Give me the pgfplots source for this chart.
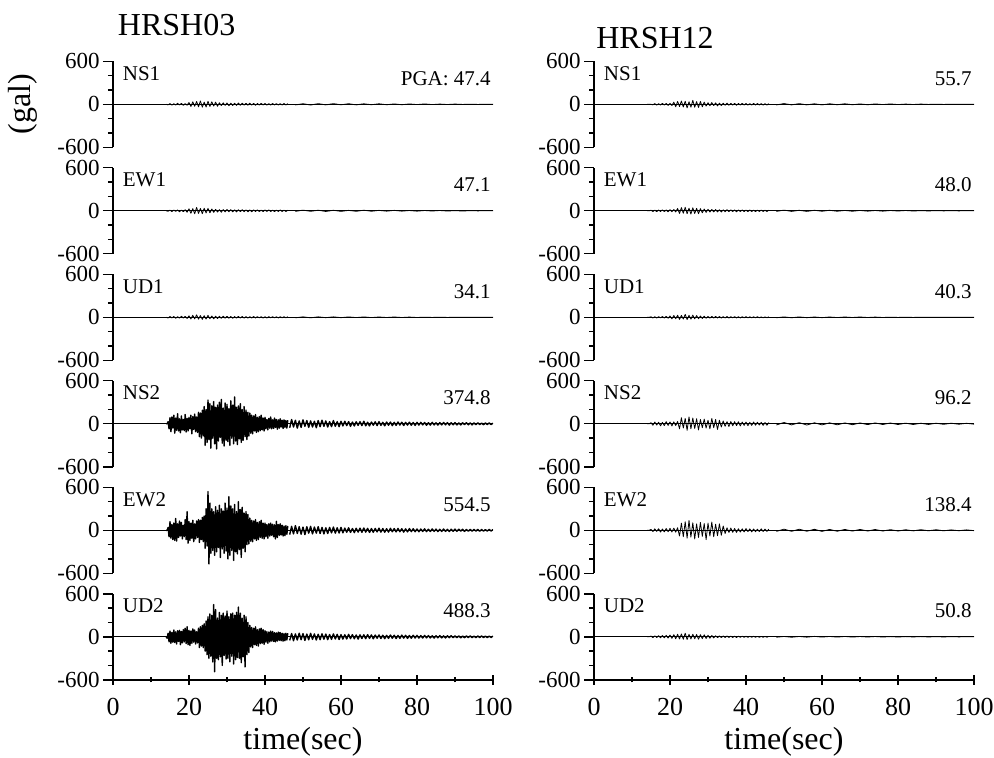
\documentclass[border=0pt]{standalone}
\usepackage{fontspec}
\setmainfont{Liberation Serif}
\usepackage{pgfplots}
\usepackage{pgfplotstable}
\pgfplotsset{compat=1.18}

% left station HRSH03, lower sensors (NS2, EW2, UD2), 14-46 s
\pgfplotstableread{
t ns ew ud
14 0 0 0
14.25 0 0 -20
14.5 30 40 50
14.75 -70 -90 -70
15 85 120 80
15.25 -110 -110 -90
15.5 95 80 60
15.75 -60 -130 -75
16 120 100 95
16.25 -130 -140 -80
16.5 80 165 70
16.75 -90 -150 -100
17 140 90 85
17.25 -100 -100 -65
17.5 70 130 90
17.75 -125 -80 -110
18 110 110 75
18.25 -85 -120 -85
18.5 60 70 100
18.75 -95 -90 -70
19 130 150 120
19.25 -115 -130 -95
19.5 75 260 140
19.75 -100 -180 -110
20 90 120 90
20.25 -70 -140 -120
20.5 120 100 80
20.75 -140 -110 -90
21 100 140 110
21.25 -80 -160 -75
21.5 135 90 95
21.75 -110 -120 -100
22 95 130 70
22.25 -120 -100 -85
22.5 160 150 120
22.75 -180 -170 -150
23 150 140 140
23.25 -200 -130 -130
23.5 190 180 160
23.75 -170 -160 -150
24 240 200 180
24.25 -300 -250 -200
24.5 200 300 220
24.75 -260 -220 -250
25 330 540 280
25.25 -220 -470 -300
25.5 280 380 320
25.75 -340 -320 -270
26 250 300 300
26.25 -200 -280 -350
26.5 310 260 450
26.75 -280 -350 -488
27 230 330 380
27.25 -350 -300 -300
27.5 260 280 260
27.75 -240 -240 -320
28 300 350 340
28.25 -190 -380 -280
28.5 340 300 300
28.75 -270 -260 -400
29 220 270 330
29.25 -310 -320 -260
29.5 290 380 290
29.75 -230 -290 -310
30 270 310 360
30.25 -250 -400 -300
30.5 210 470 280
30.75 -300 -350 -350
31 320 340 320
31.25 -200 -280 -270
31.5 260 300 330
31.75 -280 -420 -380
32 375 360 300
32.25 -240 -300 -320
32.5 230 260 340
32.75 -290 -330 -290
33 250 400 415
33.25 -210 -270 -300
33.5 280 290 330
33.75 -260 -380 -360
34 200 320 260
34.25 -230 -250 -280
34.5 240 240 300
34.75 -180 -300 -420
35 190 260 280
35.25 -220 -200 -250
35.5 160 220 200
35.75 -170 -190 -220
36 150 170 160
36.25 -130 -150 -140
36.5 120 140 130
36.75 -140 -160 -150
37 110 130 120
37.25 -100 -120 -110
37.5 130 150 140
37.75 -120 -140 -120
38 90 110 100
38.25 -110 -130 -130
38.5 100 120 110
38.75 -95 -100 -95
39 120 140 120
39.25 -85 -110 -90
39.5 80 100 100
39.75 -100 -120 -105
40 90 100 85
40.25 -70 -90 -75
40.5 60 80 70
40.75 -85 -110 -90
41 75 90 65
41.25 -60 -80 -70
41.5 95 100 80
41.75 -70 -70 -60
42 55 85 75
42.25 -65 -90 -65
42.5 80 75 60
42.75 -50 -120 -70
43 60 125 55
43.25 -75 -100 -60
43.5 55 80 65
43.75 -60 -70 -50
44 70 90 60
44.25 -45 -65 -55
44.5 50 70 50
44.75 -65 -80 -60
45 55 60 45
45.25 -50 -75 -55
45.5 45 65 50
45.75 -60 -55 -45
46 50 60 50
}\tabA

% left station, lower sensors, coda 46.5-100 s
\pgfplotstableread{
t ns ew ud
46.5 -55 -60 -50
47 60 55 45
47.5 -45 -50 -55
48 50 65 40
48.5 -60 -45 -45
49 40 50 50
49.5 -50 -55 -40
50 55 45 45
50.5 -35 -60 -50
51 45 50 38
51.5 -50 -40 -42
52 40 55 48
52.5 -45 -50 -36
53 35 45 40
53.5 -55 -40 -45
54 45 50 35
54.5 -40 -45 -40
55 50 40 42
55.5 -35 -50 -34
56 40 35 38
56.5 -45 -45 -40
57 30 40 32
57.5 -40 -35 -36
58 45 45 40
58.5 -35 -40 -30
59 30 35 34
59.5 -40 -38 -38
60 35 40 30
60.5 -30 -35 -32
61 35 30 28
61.5 -25 -28 -30
62 30 35 34
62.5 -35 -30 -26
63 25 25 30
63.5 -30 -32 -28
64 28 28 25
64.5 -22 -25 -32
65 30 30 27
65.5 -25 -28 -24
66 35 32 28
66.5 -28 -25 -26
67 22 27 30
67.5 -30 -30 -22
68 25 24 26
68.5 -20 -28 -28
69 28 26 24
69.5 -25 -22 -20
70 30 30 26
70.5 -22 -25 -24
71 20 24 22
71.5 -28 -27 -26
72 25 22 20
72.5 -20 -25 -22
73 24 28 25
73.5 -26 -20 -20
74 20 24 22
74.5 -22 -22 -24
75 25 26 19
75.5 -18 -20 -21
76 22 22 23
76.5 -24 -25 -18
77 20 20 20
77.5 -18 -22 -22
78 22 24 18
78.5 -20 -18 -20
79 18 22 21
79.5 -22 -20 -17
80 20 18 19
80.5 -18 -20 -18
81 20 18 16
81.5 -15 -16 -17
82 18 20 19
82.5 -20 -18 -15
83 15 15 17
83.5 -18 -17 -16
84 20 19 14
84.5 -16 -15 -18
85 14 16 15
85.5 -18 -18 -14
86 16 14 16
86.5 -15 -16 -15
87 18 18 13
87.5 -14 -15 -16
88 16 14 14
88.5 -18 -17 -13
89 15 15 15
89.5 -14 -13 -12
90 16 16 14
90.5 -15 -14 -13
91 12 15 12
91.5 -16 -12 -14
92 14 14 11
92.5 -12 -15 -13
93 15 12 12
93.5 -14 -13 -11
94 12 14 13
94.5 -15 -12 -12
95 13 13 10
95.5 -12 -11 -12
96 14 12 11
96.5 -12 -13 -10
97 10 11 12
97.5 -13 -12 -11
98 12 10 10
98.5 -10 -11 -11
99 12 12 10
99.5 -11 -10 -9
100 10 11 10
}\tabB

% the other nine records, 14-46 s
\pgfplotstableread{
t lns1 lew1 lud1 rns1 rew1 rud1 rns2 rew2 rud2
14 0 0 0 0 0 0 0 0 0
14.5 -8 -6 -10 0 0 0 0 0 0
15 10 9 12 0 8 7 15 12 10
15.5 -12 -11 -9 -8 -10 -9 -20 -18 -12
16 8 10 11 10 9 8 25 20 14
16.5 -10 -8 -14 -12 -12 -10 -18 -15 -10
17 14 12 10 9 11 9 22 22 16
17.5 -9 -14 -12 -11 -10 -8 -28 -25 -14
18 12 10 15 13 13 11 20 18 18
18.5 -15 -12 -11 -10 -11 -10 -25 -22 -15
19 10 15 13 12 12 14 30 25 20
19.5 -13 -20 -16 -15 -14 -12 -22 -20 -18
20 25 28 20 14 15 18 26 28 25
20.5 -30 -35 -24 -18 -13 -22 -30 -24 -22
21 35 30 28 30 18 25 28 30 30
21.5 -28 -42 -22 -35 -16 -20 -24 -26 -28
22 40 47 34 40 32 28 32 35 35
22.5 -35 -38 -26 -32 -38 -30 -70 -80 -30
23 47 33 24 45 44 26 85 100 40
23.5 -40 -40 -30 -38 -35 -24 -60 -90 -35
24 30 36 22 42 48 40 75 120 50
24.5 -38 -30 -25 -50 -40 -32 -90 -110 -38
25 42 34 27 36 36 28 96 138 34
25.5 -30 -28 -20 -40 -45 -26 -70 -95 -30
26 35 25 18 55 42 30 80 105 36
26.5 -25 -22 -22 -42 -38 -22 -65 -120 -28
27 30 20 16 38 34 24 70 90 32
27.5 -28 -18 -18 -45 -40 -20 -85 -100 -34
28 22 16 15 40 30 18 60 110 30
28.5 -18 -20 -14 -35 -28 -16 -55 -85 -26
29 20 17 16 30 25 15 65 95 28
29.5 -15 -15 -12 -25 -22 -14 -60 -130 -24
30 18 18 14 22 20 13 50 100 22
30.5 -20 -14 -13 -20 -18 -12 -70 -80 -20
31 15 16 12 24 19 14 75 115 18
31.5 -17 -15 -14 -18 -16 -11 -55 -90 -16
32 14 13 11 20 17 12 60 85 14
32.5 -16 -16 -12 -22 -15 -10 -80 -75 -12
33 18 14 13 16 14 11 50 90 13
33.5 -14 -12 -10 -18 -16 -12 -45 -70 -11
34 15 15 12 15 13 10 40 60 12
34.5 -12 -13 -11 -14 -14 -9 -35 -45 -10
35 14 12 10 16 15 11 30 35 11
35.5 -13 -14 -12 -13 -12 -10 -38 -30 -9
36 16 11 9 14 13 9 32 32 10
36.5 -12 -13 -10 -12 -11 -8 -28 -28 -9
37 13 12 11 13 12 10 30 25 8
37.5 -14 -10 -9 -14 -13 -9 -25 -30 -9
38 12 13 10 12 11 8 28 22 8
38.5 -11 -11 -8 -11 -10 -9 -30 -25 -7
39 13 10 9 13 12 8 25 20 8
39.5 -10 -12 -10 -10 -11 -7 -22 -22 -7
40 12 11 8 11 10 9 24 24 7
40.5 -11 -9 -9 -12 -12 -8 -26 -18 -8
41 10 12 10 10 11 7 20 20 7
41.5 -12 -10 -8 -11 -10 -8 -22 -22 -6
42 11 9 9 12 9 7 25 18 7
42.5 -9 -11 -8 -10 -11 -6 -20 -20 -6
43 10 10 7 11 10 8 22 16 6
43.5 -11 -9 -9 -9 -9 -7 -18 -18 -7
44 9 11 8 10 10 6 20 20 6
44.5 -10 -10 -7 -11 -9 -7 -22 -16 -6
45 11 9 8 9 8 6 18 17 5
45.5 -9 -10 -7 -10 -10 -6 -20 -15 -6
46 10 8 8 9 9 7 17 16 6
}\tabC

% the other nine records, coda 48-100 s
\pgfplotstableread{
t lns1 lew1 lud1 rns1 rew1 rud1 rns2 rew2 rud2
48 -9 -8 -7 -9 -8 -6 -16 -15 -6
50 8 9 6 10 9 5 18 16 5
52 -10 -7 -7 -8 -8 -6 -15 -14 -6
54 9 8 6 9 7 5 16 15 5
56 -8 -9 -5 -8 -8 -5 -17 -13 -5
58 9 7 6 7 7 4 14 14 6
60 -7 -8 -5 -8 -6 -5 -15 -15 -4
62 8 6 5 7 7 4 13 12 5
64 -8 -7 -4 -6 -6 -4 -14 -13 -4
66 7 8 5 7 5 4 12 12 5
68 -6 -6 -4 -6 -6 -3 -13 -11 -4
70 7 6 4 5 5 4 12 12 4
72 -6 -5 -3 -6 -5 -3 -11 -10 -3
74 5 6 4 5 4 3 12 11 4
76 -6 -5 -3 -4 -5 -3 -10 -10 -3
78 5 4 3 5 4 2 11 9 3
80 -4 -5 -3 -4 -3 -2 -10 -10 -3
82 5 4 2 3 4 2 9 8 3
84 -4 -3 -2 -3 -3 -2 -10 -8 -2
86 3 4 2 3 2 2 8 9 3
88 -3 -3 -2 -2 -2 -1 -9 -7 -2
90 3 2 1 2 2 1 8 8 2
92 -2 -3 -1 -2 -1 -1 -7 -7 -2
94 2 2 1 1 1 1 8 6 2
96 -2 -1 -1 -1 -1 -1 -6 -6 -1
98 1 1 1 1 1 1 7 6 1
100 0 0 0 0 0 0 -5 -5 0
}\tabD

\pgfplotsset{
  seis/.style={
    scale only axis, width=190pt, height=43pt,
    xmin=0, xmax=100, ymin=-600, ymax=600,
    axis y line=left,
    ytick={-600,0,600}, yticklabels={-600,0,600},
    minor ytick={-400,-200,200,400},
    tick align=outside, major tick length=5pt, minor tick length=2.5pt,
    tick style={black, line width=0.7pt},
    yticklabel style={font=\fontsize{11.5}{11.5}\selectfont, inner sep=1.5pt},
    anchor=west,
  },
  toprow/.style={seis, axis x line=none,
    axis line style={-, line width=0.7pt}},
  bottomrow/.style={seis,
    axis x line=bottom,
    axis line style={-, line width=0.7pt},
    x axis line style={-}, y axis line style={-},
    xtick={0,20,40,60,80,100}, xticklabels={0,20,40,60,80,100},
    minor xtick={10,30,50,70,90},
    xticklabel style={font=\fontsize{13}{13}\selectfont, inner sep=2pt, yshift=-4.5pt},
  },
  trace/.style={black, line width=0.4pt, line join=round, mark=none},
  bigtrace/.style={black, line width=0.7pt, line join=round, mark=none},
  base/.style={black, line width=0.5pt, mark=none},
}
\newcommand{\chlabel}[2]{%
  \node[anchor=west, inner sep=0pt, font=\fontsize{10.5}{10.5}\selectfont] at (axis cs:2.5,430) {#1};%
  \node[anchor=east, inner sep=0pt, font=\fontsize{10.5}{10.5}\selectfont] at (axis cs:99.5,360) {#2};}

\begin{document}
\begin{tikzpicture}
\useasboundingbox (0pt,0pt) rectangle (497pt,-379pt);

% ---------------- HRSH03 ----------------
\begin{axis}[toprow, at={(56.5pt,-52.15pt)}]
\addplot[base] coordinates {(0,0) (100,0)};
\addplot[trace] table[x=t,y=lns1] {\tabC};
\addplot[trace] table[x=t,y=lns1] {\tabD};
\chlabel{NS1}{PGA: 47.4}
\end{axis}
\begin{axis}[toprow, at={(56.5pt,-105.4pt)}]
\addplot[base] coordinates {(0,0) (100,0)};
\addplot[trace] table[x=t,y=lew1] {\tabC};
\addplot[trace] table[x=t,y=lew1] {\tabD};
\chlabel{EW1}{47.1}
\end{axis}
\begin{axis}[toprow, at={(56.5pt,-158.65pt)}]
\addplot[base] coordinates {(0,0) (100,0)};
\addplot[trace] table[x=t,y=lud1] {\tabC};
\addplot[trace] table[x=t,y=lud1] {\tabD};
\chlabel{UD1}{34.1}
\end{axis}
\begin{axis}[toprow, at={(56.5pt,-211.9pt)}]
\addplot[base] coordinates {(0,0) (100,0)};
\addplot[bigtrace] table[x=t,y=ns] {\tabA};
\addplot[bigtrace] table[x=t,y=ns] {\tabB};
\chlabel{NS2}{374.8}
\end{axis}
\begin{axis}[toprow, at={(56.5pt,-265.15pt)}]
\addplot[base] coordinates {(0,0) (100,0)};
\addplot[bigtrace] table[x=t,y=ew] {\tabA};
\addplot[bigtrace] table[x=t,y=ew] {\tabB};
\chlabel{EW2}{554.5}
\end{axis}
\begin{axis}[bottomrow, at={(56.5pt,-318.4pt)}]
\addplot[base] coordinates {(0,0) (100,0)};
\addplot[bigtrace] table[x=t,y=ud] {\tabA};
\addplot[bigtrace] table[x=t,y=ud] {\tabB};
\chlabel{UD2}{488.3}
\end{axis}

% ---------------- HRSH12 ----------------
\begin{axis}[toprow, at={(297pt,-52.15pt)}]
\addplot[base] coordinates {(0,0) (100,0)};
\addplot[trace] table[x=t,y=rns1] {\tabC};
\addplot[trace] table[x=t,y=rns1] {\tabD};
\chlabel{NS1}{55.7}
\end{axis}
\begin{axis}[toprow, at={(297pt,-105.4pt)}]
\addplot[base] coordinates {(0,0) (100,0)};
\addplot[trace] table[x=t,y=rew1] {\tabC};
\addplot[trace] table[x=t,y=rew1] {\tabD};
\chlabel{EW1}{48.0}
\end{axis}
\begin{axis}[toprow, at={(297pt,-158.65pt)}]
\addplot[base] coordinates {(0,0) (100,0)};
\addplot[trace] table[x=t,y=rud1] {\tabC};
\addplot[trace] table[x=t,y=rud1] {\tabD};
\chlabel{UD1}{40.3}
\end{axis}
\begin{axis}[toprow, at={(297pt,-211.9pt)}]
\addplot[base] coordinates {(0,0) (100,0)};
\addplot[trace] table[x=t,y=rns2] {\tabC};
\addplot[trace] table[x=t,y=rns2] {\tabD};
\chlabel{NS2}{96.2}
\end{axis}
\begin{axis}[toprow, at={(297pt,-265.15pt)}]
\addplot[base] coordinates {(0,0) (100,0)};
\addplot[trace] table[x=t,y=rew2] {\tabC};
\addplot[trace] table[x=t,y=rew2] {\tabD};
\chlabel{EW2}{138.4}
\end{axis}
\begin{axis}[bottomrow, at={(297pt,-318.4pt)}]
\addplot[base] coordinates {(0,0) (100,0)};
\addplot[trace] table[x=t,y=rud2] {\tabC};
\addplot[trace] table[x=t,y=rud2] {\tabD};
\chlabel{UD2}{50.8}
\end{axis}

% titles and axis names
\node[font=\fontsize{16}{16}\selectfont] at (88.3pt,-12.5pt) {HRSH03};
\node[font=\fontsize{16}{16}\selectfont] at (327.5pt,-19pt) {HRSH12};
\node[font=\fontsize{16}{16}\selectfont, rotate=90] at (11.5pt,-52pt) {(gal)};
\node[font=\fontsize{16}{16}\selectfont] at (151.5pt,-371pt) {time(sec)};
\node[font=\fontsize{16}{16}\selectfont] at (392pt,-371pt) {time(sec)};
\end{tikzpicture}
\end{document}
